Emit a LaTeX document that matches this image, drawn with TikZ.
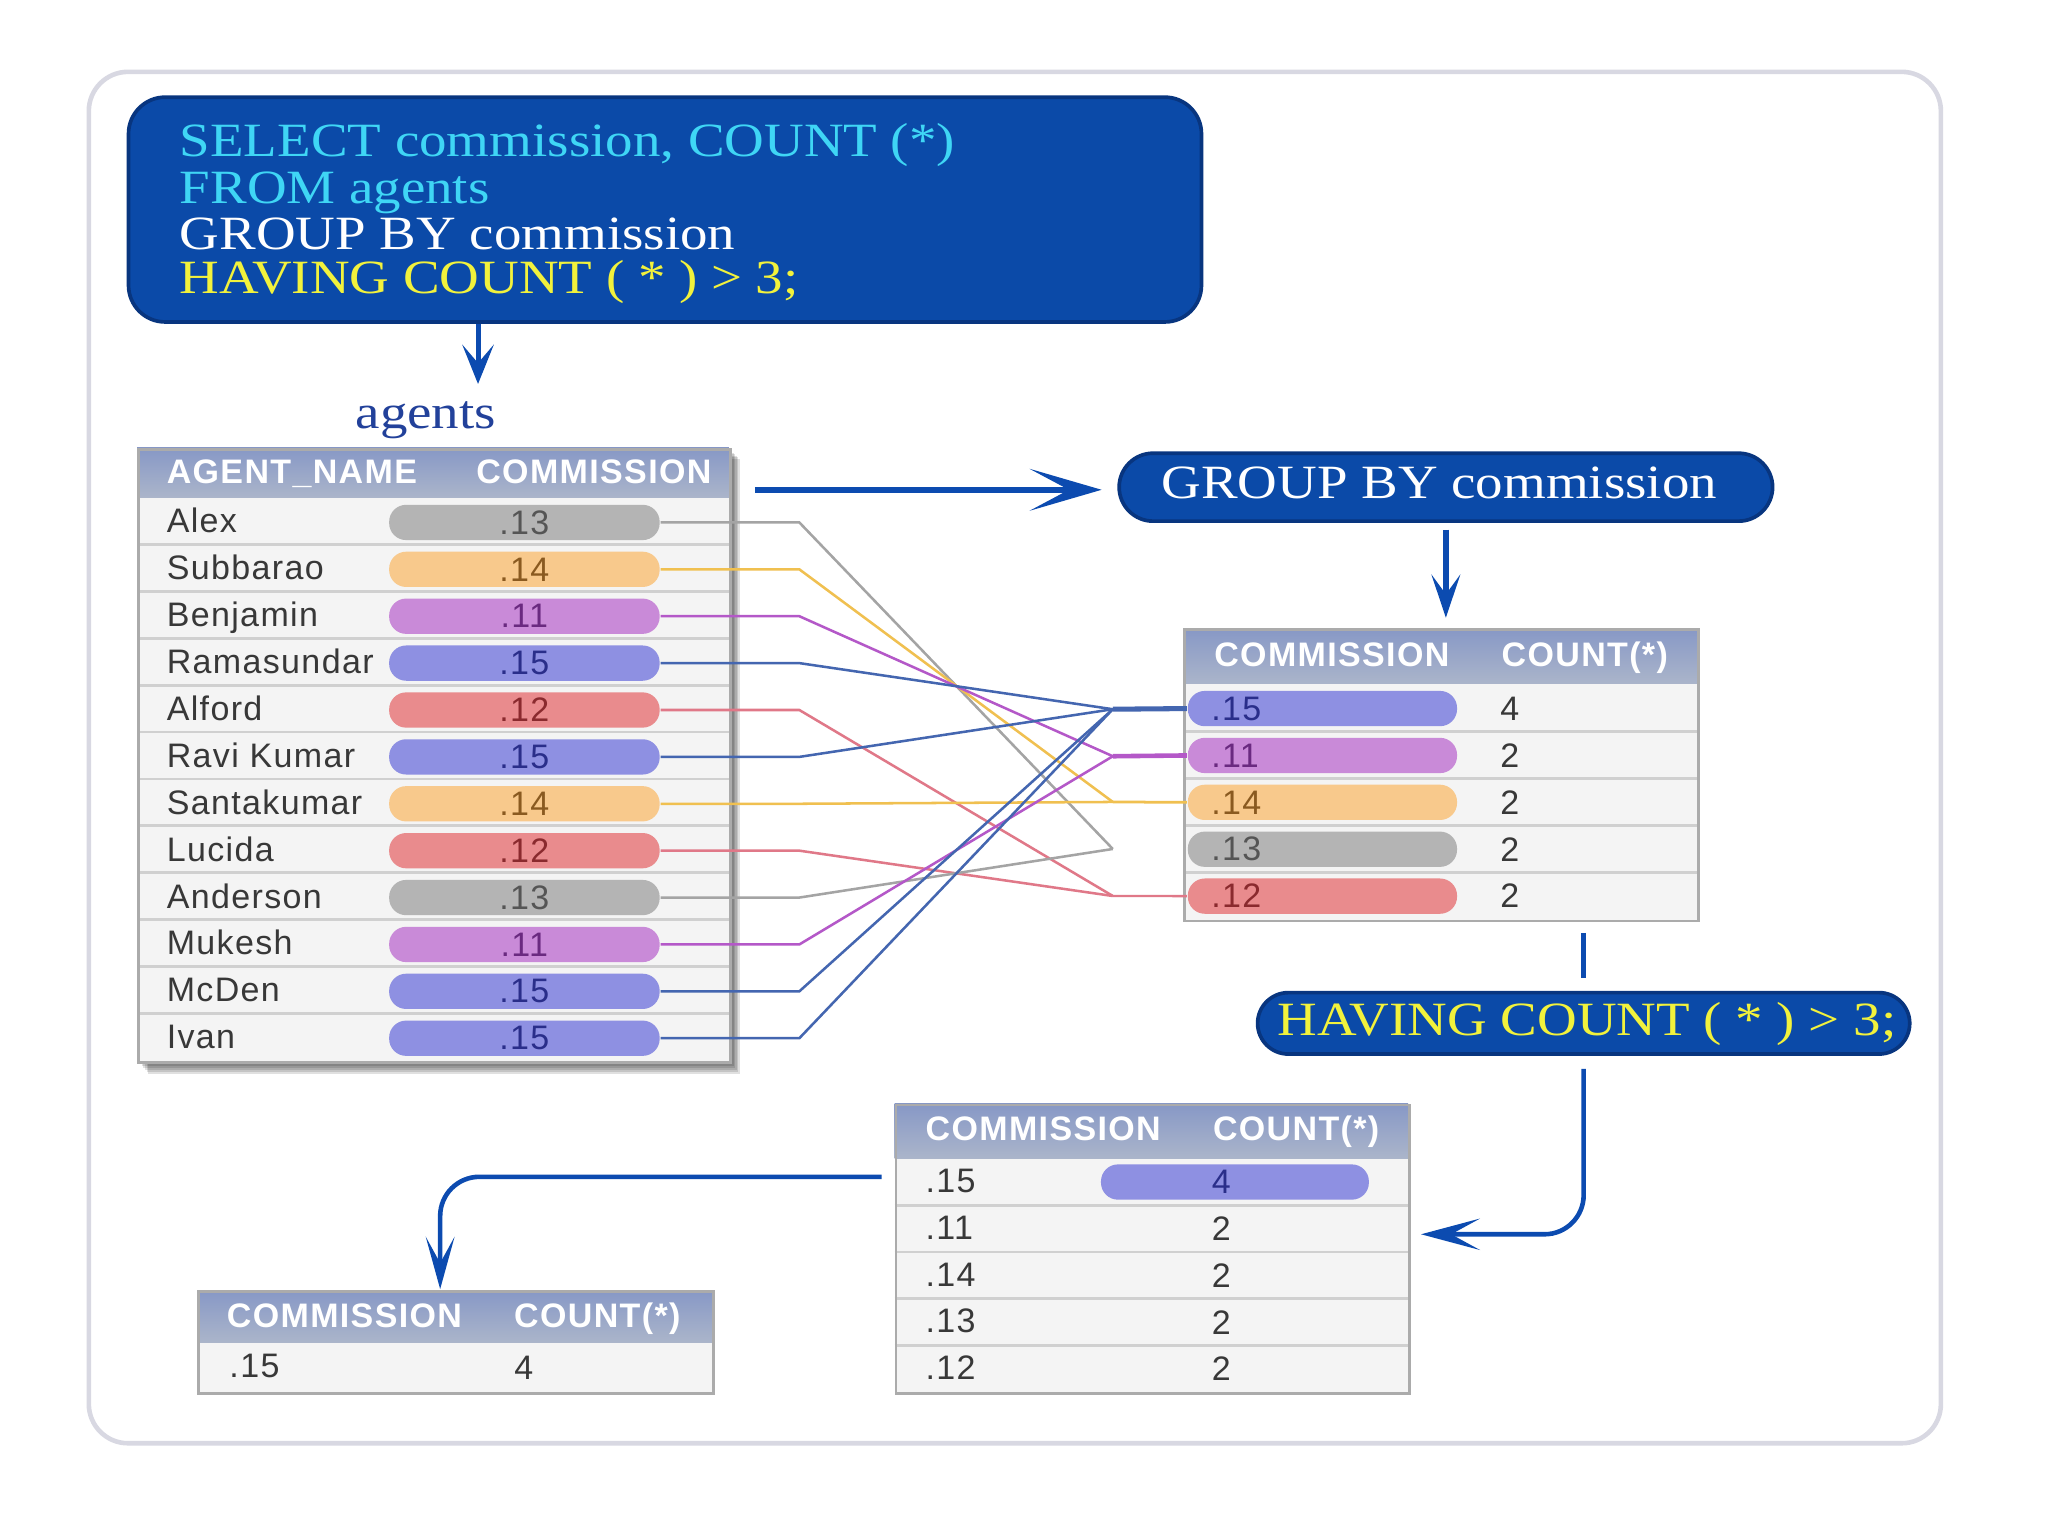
\documentclass[tikz,border=0pt]{standalone}
\usepackage{fontspec}
\setmainfont{Liberation Serif}
\setsansfont{Liberation Sans}
\newfontfamily\sqlfont[FakeStretch=1.15]{Liberation Serif}
\newfontfamily\cellfont[LetterSpace=4]{Liberation Sans}
\usetikzlibrary{arrows.meta,calc}
\definecolor{sqlblue}{HTML}{0B4AA8}
\definecolor{sqledge}{HTML}{08357F}
\definecolor{sqlcyan}{HTML}{3FD6F5}
\definecolor{sqlyellow}{HTML}{F2F23C}
\definecolor{navy}{HTML}{22419A}
\definecolor{arrowblue}{HTML}{0C4BB0}
\definecolor{hdtop}{HTML}{8798C6}
\definecolor{hdbot}{HTML}{ABB5CA}
\definecolor{rowbg}{HTML}{F4F4F4}
\definecolor{rowline}{HTML}{D0D0D0}
\definecolor{tabedge}{HTML}{ABABAB}
\definecolor{frameedge}{HTML}{D8D8E2}
\definecolor{txtgray}{HTML}{383838}
\definecolor{cA}{HTML}{B4B4B4}
\definecolor{cB}{HTML}{F8C98C}
\definecolor{cC}{HTML}{C98AD8}
\definecolor{cD}{HTML}{8E90E2}
\definecolor{cE}{HTML}{E98B8D}
\definecolor{tA}{HTML}{555555}
\definecolor{tB}{HTML}{8A5A20}
\definecolor{tC}{HTML}{6A2A80}
\definecolor{tD}{HTML}{2A2E8A}
\definecolor{tE}{HTML}{8A2A2E}
\definecolor{lA}{HTML}{A4A4A4}
\definecolor{lB}{HTML}{F0C050}
\definecolor{lC}{HTML}{B458C8}
\definecolor{lD}{HTML}{4466B0}
\definecolor{lE}{HTML}{E07888}
\tikzset{
  sqltxt/.style={font=\sqlfont\fontsize{10.4}{10}\selectfont, inner sep=0pt, anchor=base west},
  hdrtxt/.style={font=\cellfont\bfseries\fontsize{7.4}{8}\selectfont, text=white, inner sep=0pt, anchor=base west},
  celltxt/.style={font=\cellfont\fontsize{7.4}{8}\selectfont, text=txtgray, inner sep=0pt, anchor=base west},
  numtxt/.style={font=\cellfont\fontsize{7.4}{8}\selectfont, text=txtgray, inner sep=0pt},
  pill/.style={rectangle, rounded corners=0.13cm, minimum width=2.07cm, minimum height=0.27cm, inner sep=0pt, font=\cellfont\fontsize{7.4}{8}\selectfont},
  gpill/.style={pill, minimum width=2.05cm, text width=1.7cm, align=left, inner xsep=0.18cm},
  tabframe/.style={draw=tabedge, line width=0.6pt, inner sep=0pt, anchor=north west},
  bluearrow/.style={draw=arrowblue, line width=1.2pt, -{Stealth[length=0.3cm, width=0.26cm, inset=0.15cm]}},
  blueline/.style={draw=arrowblue, line width=1.0pt},
  link/.style={line width=0.55pt},
  sqlpill/.style={rectangle, fill=sqlblue, draw=sqledge, line width=0.8pt, inner sep=0pt},
}
\begin{document}
\begin{tikzpicture}[x=0.01cm, y=-0.01cm]
\useasboundingbox (0,0) rectangle (1568,1176);
\fill[white] (0,0) rectangle (1568,1176);
% outer frame
\draw[frameedge, line width=1pt, rounded corners=0.3cm] (68,55) rectangle (1486,1105);

% SQL box
\node[sqlpill, rounded corners=0.28cm, minimum width=8.21cm, minimum height=1.72cm, anchor=north west] (sql) at (97,73) {};
\node[sqltxt, text=sqlcyan] (s1) at (137,120) {SELECT commission, COUNT (*)};
\node[sqltxt, text=sqlcyan] (s2) at (137,156) {FROM agents};
\node[sqltxt, text=white] (s3) at (137,191) {GROUP BY commission};
\node[sqltxt, text=sqlyellow] (s4) at (137,225) {HAVING COUNT ( * ) > 3;};

% agents label and arrow
\node[sqltxt, anchor=base, text=navy] (alabel) at (326,328) {agents};
\coordinate (a1e) at (366,294);
\draw[bluearrow, line width=1.1pt, -{Stealth[length=0.3cm, width=0.24cm, inset=0.14cm]}] (sql.south -| a1e) -- (a1e);

% ===== agents table =====
\foreach \k in {1,...,7}{
  \fill[black, opacity=0.12] (105+\k*1.2, 343+\k*1.2) rectangle (558+\k*1.2, 812+\k*1.5);
}
\shade[top color=hdtop, bottom color=hdbot] (105,343) rectangle (558,381);
\fill[rowbg] (105,381) rectangle (558,812);
\foreach \k in {1,...,11}{
  \draw[rowline, line width=0.6pt] (105,{381+35.9*\k}) -- (558,{381+35.9*\k});
}
\node[tabframe, minimum width=4.53cm, minimum height=4.69cm] (atab) at (105,343) {};
\node[hdrtxt] (ah1) at (127,370) {AGENT\_NAME};
\node[hdrtxt] (ah2) at (364,370) {COMMISSION};

% junction points in front of group table
\coordinate (jD) at (852,543);
\coordinate (jC) at (852,579);
\coordinate (jB) at (852,614);
\coordinate (jA) at (852,650);
\coordinate (jE) at (852,686);

\foreach \nm/\v/\c [count=\i] in {Alex/.13/A, Subbarao/.14/B, Benjamin/.11/C, Ramasundar/.15/D, Alford/.12/E, Ravi Kumar/.15/D, Santakumar/.14/B, Lucida/.12/E, Anderson/.13/A, Mukesh/.11/C, McDen/.15/D, Ivan/.15/D}{
  \node[celltxt] (n\i) at (127,{408+35.9*(\i-1)}) {\nm};
  \node[pill, fill=c\c, text=t\c] (p\i) at (401.5,{400+35.9*(\i-1)}) {\v};
  \coordinate (b\i) at (612,{400+35.9*(\i-1)});
  \draw[link, draw=l\c] (p\i.east) -- (b\i) -- (j\c);
}

% ===== GROUP BY pill and arrow =====
\node[sqlpill, rounded corners=0.26cm, minimum width=5.0cm, minimum height=0.52cm] (gbpill) at (1107,373) {};
\node[sqltxt, anchor=base, text=white] (gbtxt) at (1102,382) {GROUP BY commission};
\coordinate (a2s) at (578,375);
\draw[bluearrow, line width=1.4pt, shorten >=0.12cm, -{Stealth[length=0.55cm, width=0.32cm, inset=0.3cm]}] (a2s) -- (a2s -| gbpill.west);

% ===== group table =====
\shade[top color=hdtop, bottom color=hdbot] (906,481) rectangle (1299,524);
\fill[rowbg] (906,524) rectangle (1299,704);
\foreach \k in {1,...,4}{
  \draw[rowline, line width=0.6pt] (906,{524+36*\k}) -- (1299,{524+36*\k});
}
\node[tabframe, minimum width=3.93cm, minimum height=2.23cm] (gtab) at (906,481) {};
\node[hdrtxt] (gh1) at (929,510) {COMMISSION};
\node[hdrtxt] (gh2) at (1149,510) {COUNT(*)};
\draw[bluearrow, shorten <=0.05cm, shorten >=0.08cm, -{Stealth[length=0.33cm, width=0.22cm, inset=0.15cm]}] (gbpill.south) -- (gbpill.south |- gtab.north);

\foreach \v/\c/\n [count=\i] in {.15/D/4, .11/C/2, .14/B/2, .13/A/2, .12/E/2}{
  \node[gpill, fill=c\c, text=t\c] (g\i) at (1012.5,{542.5+35.9*(\i-1)}) {\v};
  \node[numtxt] (gc\i) at (1156,{542.5+35.9*(\i-1)}) {\n};
}
\draw[draw=lD, line width=1.1pt] (jD) -- (g1.west);
\draw[draw=lC, line width=1.0pt] (jC) -- (g2.west);
\draw[draw=lB, line width=0.6pt] (jB) -- (g3.west);
\draw[draw=lE, line width=0.5pt] (jE) -- (g5.west);

% ===== HAVING pill =====
\node[sqlpill, rounded corners=0.235cm, minimum width=4.99cm, minimum height=0.47cm] (hvpill) at (1212.5,783.5) {};
\node[sqltxt, anchor=base, text=sqlyellow] (hvtxt) at (1215,793) {HAVING COUNT ( * ) > 3;};
\draw[blueline, shorten <=0.08cm, shorten >=0.1cm] (hvpill.north |- gtab.south) -- (hvpill.north);

% ===== filtered table =====
\shade[top color=hdtop, bottom color=hdbot] (685,845) rectangle (1078,887);
\fill[rowbg] (685,887) rectangle (1078,1066);
\foreach \k in {1,...,4}{
  \draw[rowline, line width=0.6pt] (685,{887+35.8*\k}) -- (1078,{887+35.8*\k});
}
\node[tabframe, minimum width=3.93cm, minimum height=2.21cm] (ftab) at (685,845) {};
\node[hdrtxt] (fh1) at (708,873) {COMMISSION};
\node[hdrtxt] (fh2) at (928,873) {COUNT(*)};
\node[pill, fill=cD, minimum width=2.05cm] (fp1) at (945.5,905) {};
\foreach \v/\n [count=\i] in {.15/4, .11/2, .14/2, .13/2, .12/2}{
  \node[celltxt] (fv\i) at (708,{913+35.8*(\i-1)}) {\v};
}
\node[numtxt, text=tD] (fc1) at (935,905) {4};
\foreach \i in {2,...,5}{
  \node[numtxt] (fc\i) at (935,{905+35.8*(\i-1)}) {2};
}
\coordinate (fR) at (1078,945);
\draw[bluearrow, line width=1.0pt, rounded corners=0.3cm, shorten <=0.1cm, shorten >=0.1cm, -{Stealth[length=0.45cm, width=0.24cm, inset=0.22cm]}] (hvpill.south) |- (fR);

% ===== final table =====
\shade[top color=hdtop, bottom color=hdbot] (151,988) rectangle (545,1028);
\fill[rowbg] (151,1028) rectangle (545,1066);
\node[tabframe, minimum width=3.94cm, minimum height=0.78cm] (ttab) at (151,988) {};
\node[hdrtxt] (th1) at (173,1016) {COMMISSION};
\node[hdrtxt] (th2) at (393,1016) {COUNT(*)};
\node[celltxt] (tv1) at (175,1055) {.15};
\node[numtxt] (tc1) at (401,1047) {4};
\coordinate (fL) at (685,901);
\coordinate (tIn) at (337,987);
\draw[bluearrow, line width=1.0pt, rounded corners=0.3cm, shorten <=0.1cm, -{Stealth[length=0.4cm, width=0.22cm, inset=0.2cm]}] (fL) -| (tIn);
\end{tikzpicture}
\end{document}
